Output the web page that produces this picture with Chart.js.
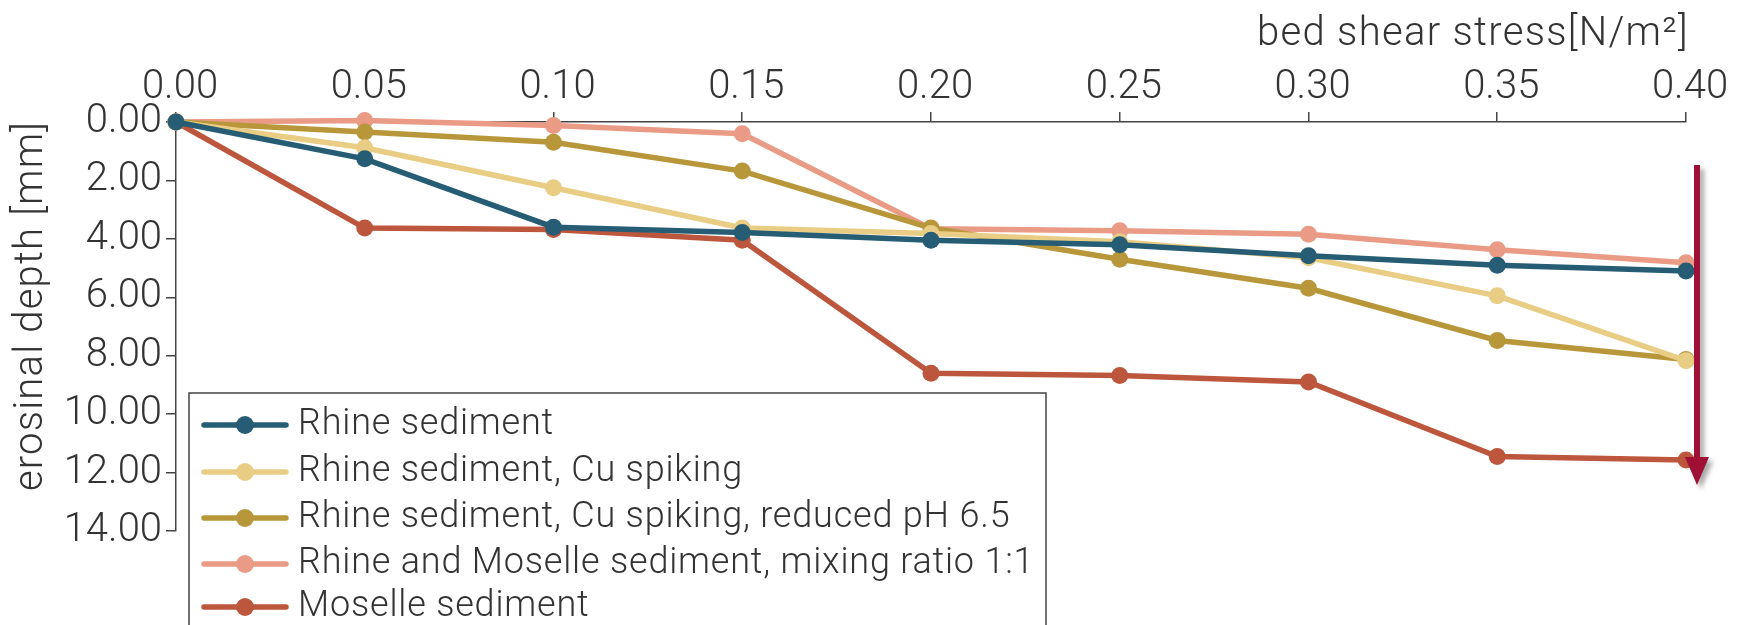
<!DOCTYPE html>
<html>
<head>
<meta charset="utf-8">
<script src="https://cdn.jsdelivr.net/npm/chart.js@4.4.1/dist/chart.umd.min.js"></script>
<style>
html,body{margin:0;padding:0;background:#fff;}
#wrap{width:1745px;height:625px;position:relative;}
</style>
</head>
<body>
<div id="wrap"><canvas id="c"></canvas></div>
<script>
// ---- data ----
const stress = [0.00, 0.05, 0.10, 0.15, 0.20, 0.25, 0.30, 0.35, 0.40];
const seriesNames = [
  "Rhine sediment",
  "Rhine sediment, Cu spiking",
  "Rhine sediment, Cu spiking, reduced pH 6.5",
  "Rhine and Moselle sediment, mixing ratio 1:1",
  "Moselle sediment"
];
const rhine          = [0, 1.26, 3.60, 3.78, 4.05, 4.20, 4.58, 4.90, 5.10];
const rhineCu        = [0, 0.88, 2.25, 3.63, 3.82, 4.10, 4.65, 5.95, 8.17];
const rhineCuPH      = [0, 0.34, 0.69, 1.68, 3.63, 4.70, 5.69, 7.48, 8.13];
const rhineMoselle   = [0, -0.05, 0.12, 0.40, 3.65, 3.72, 3.84, 4.37, 4.82];
const moselle        = [0, 3.63, 3.68, 4.05, 8.60, 8.68, 8.90, 11.45, 11.57];
const yTicks = [0, 2, 4, 6, 8, 10, 12, 14];
const xTitle = "bed shear stress[N/m\u00B2]";
const yTitle = "erosinal depth [mm]";

const colors = ["#265d75", "#e9cd85", "#b8973b", "#e99b86", "#bc563c"];
const values = [rhine, rhineCu, rhineCuPH, rhineMoselle, moselle];

const FONT = "Roboto, 'Liberation Sans', sans-serif";
const TXT = "#333333";

const datasets = values.map((v, i) => ({
  label: seriesNames[i],
  data: v.map((y, j) => ({x: stress[j], y: y})),
  borderColor: colors[i],
  backgroundColor: colors[i],
  pointBackgroundColor: colors[i],
  pointBorderColor: colors[i],
  borderWidth: 5.5,
  pointRadius: 8.5,
  pointBorderWidth: 0,
  tension: 0,
  clip: false
}));

const decor = {
  id: 'decor',
  afterDraw(chart) {
    const ctx = chart.ctx;
    const area = chart.chartArea;
    // x-axis title (top right)
    ctx.save();
    ctx.letterSpacing = '1.3px';
    ctx.fillStyle = TXT;
    ctx.font = "300 40px " + FONT;
    ctx.textAlign = "right";
    ctx.textBaseline = "alphabetic";
    ctx.fillText(xTitle, area.right + 3, 45);
    ctx.restore();

    // y-axis title
    ctx.save();
    ctx.letterSpacing = '1.2px';
    ctx.fillStyle = TXT;
    ctx.font = "300 40px " + FONT;
    ctx.textAlign = "center";
    ctx.textBaseline = "middle";
    ctx.translate(32, 306);
    ctx.rotate(-Math.PI / 2);
    ctx.fillText(yTitle, 0, 0);
    ctx.restore();

    // arrow
    ctx.save();
    ctx.shadowColor = "rgba(0,0,0,0.35)";
    ctx.shadowBlur = 5;
    ctx.shadowOffsetX = 4;
    ctx.shadowOffsetY = 4;
    ctx.fillStyle = "#a01035";
    const ax = 1697;
    ctx.fillRect(ax - 3, 165, 6, 295);
    ctx.beginPath();
    ctx.moveTo(ax - 12, 457);
    ctx.lineTo(ax + 12, 457);
    ctx.lineTo(ax, 485);
    ctx.closePath();
    ctx.fill();
    ctx.restore();

    // legend
    ctx.save();
    const bx = 189, by = 393, bw = 857, bh = 260;
    ctx.fillStyle = "#ffffff";
    ctx.fillRect(bx, by, bw, bh);
    ctx.strokeStyle = "#444444";
    ctx.lineWidth = 1.5;
    ctx.strokeRect(bx, by, bw, bh);
    const rows = [425, 472, 518, 564, 607];
    chart.data.datasets.forEach((ds, i) => {
      const y = rows[i];
      ctx.strokeStyle = ds.borderColor;
      ctx.lineWidth = 5.5;
      ctx.lineCap = "round";
      ctx.beginPath();
      ctx.moveTo(204, y);
      ctx.lineTo(286, y);
      ctx.stroke();
      ctx.fillStyle = ds.borderColor;
      ctx.beginPath();
      ctx.arc(245, y, 9, 0, Math.PI * 2);
      ctx.fill();
      ctx.fillStyle = TXT;
      ctx.letterSpacing = '0.8px';
      ctx.font = "300 36px " + FONT;
      ctx.textAlign = "left";
      ctx.textBaseline = "middle";
      ctx.fillText(ds.label, 298, y);
    });
    ctx.restore();
  }
};

new Chart(document.getElementById('c'), {
  type: 'line',
  data: { datasets: datasets },
  options: {
    responsive: true,
    maintainAspectRatio: false,
    animation: false,
    layout: { padding: { left: 0, right: 59, top: 0, bottom: 94 } },
    plugins: { legend: { display: false }, tooltip: { enabled: false } },
    scales: {
      x: {
        type: 'linear',
        position: 'top',
        min: 0, max: 0.4,
        afterBuildTicks(scale) { scale.ticks = stress.map(v => ({value: v})); },
        afterFit(scale) { scale.height = 122; },
        ticks: {
          color: TXT,
          font: { family: FONT, size: 40, weight: 300 },
          padding: 0,
          labelOffset: 4,
          callback: v => Number(v).toFixed(2)
        },
        grid: { drawOnChartArea: false, drawTicks: true, tickLength: 10, color: "#444", lineWidth: 1.5 },
        border: { display: true, color: "#444", width: 1.5 },
        title: { display: false }
      },
      y: {
        type: 'linear',
        reverse: true,
        min: 0, max: 14,
        afterBuildTicks(scale) { scale.ticks = yTicks.map(v => ({value: v})); },
        afterFit(scale) { scale.width = 176; },
        ticks: {
          color: TXT,
          font: { family: FONT, size: 40, weight: 300 },
          padding: 4,
          callback: v => Number(v).toFixed(2)
        },
        grid: { drawOnChartArea: false, drawTicks: true, tickLength: 10, color: "#444", lineWidth: 1.5 },
        border: { display: true, color: "#444", width: 1.5 }
      }
    }
  },
  plugins: [decor]
});
</script>
</body>
</html>
